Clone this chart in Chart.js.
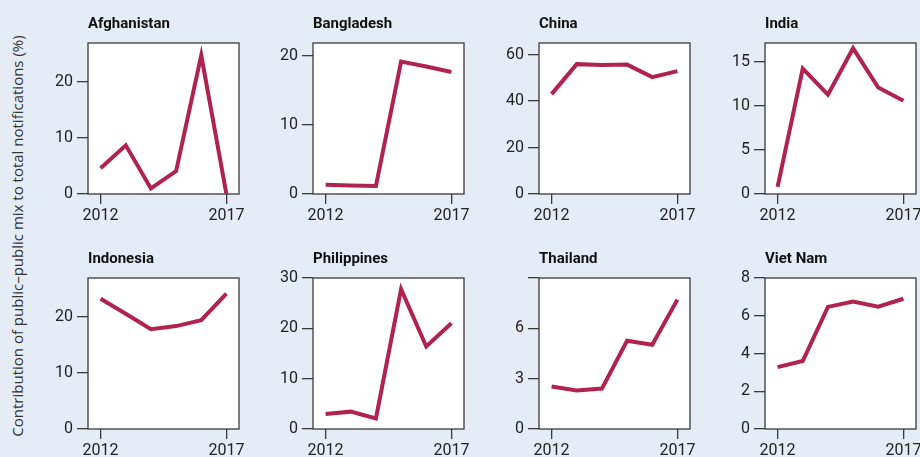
<!DOCTYPE html>
<html>
<head>
<meta charset="utf-8">
<script src="https://cdn.jsdelivr.net/npm/chart.js@4"></script>
<style>
  html, body { margin: 0; padding: 0; }
  body { width: 920px; height: 457px; background: #e6ecf6; position: relative; overflow: hidden; }
  canvas { position: absolute; }
  #ylab {
    position: absolute; left: 17px; top: 236px;
    transform: translate(-50%, -50%) rotate(-90deg);
    white-space: nowrap; font: 15px "Open Sans", sans-serif; color: #333;
  }
</style>
</head>
<body>
<div id="ylab">Contribution of public–public mix to total notifications (%)</div>

<script>
var years = [2012, 2013, 2014, 2015, 2016, 2017];
var xTicks = [2012, 2017];

var countries = ["Afghanistan", "Bangladesh", "China", "India",
                 "Indonesia", "Philippines", "Thailand", "Viet Nam"];

var afghanistan = [4.6, 8.7, 1.0, 4.1, 24.8, 0];
var bangladesh  = [1.35, 1.25, 1.15, 19.2, 18.5, 17.7];
var china       = [43.0, 55.9, 55.5, 55.7, 50.3, 52.9];
var india       = [0.8, 14.2, 11.25, 16.5, 12.05, 10.55];
var indonesia   = [23.3, 20.6, 17.85, 18.4, 19.45, 24.2];
var philippines = [3.0, 3.45, 2.1, 27.8, 16.4, 21.0];
var thailand    = [2.53, 2.29, 2.41, 5.26, 5.02, 7.71];
var vietnam     = [3.28, 3.6, 6.47, 6.75, 6.48, 6.9];

var yMax   = [27, 21.9, 65, 17.1, 27, 30, 9, 8];
var yTicks = [[0, 10, 20], [0, 10, 20], [0, 20, 40, 60], [0, 5, 10, 15],
              [0, 10, 20], [0, 10, 20, 30], [0, 3, 6, 9], [0, 2, 4, 6, 8]];
var hiddenLabels = [[], [], [], [], [], [], [9], []];

var series = [afghanistan, bangladesh, china, india, indonesia, philippines, thailand, vietnam];

// box positions of each small plot
var colLeft = [88, 313, 539, 765];
var rowTop = [43, 278];
var boxSize = 151;
var padL = 60, padT = 40, padR = 20, padB = 35;

var boxPlugin = {
  id: 'box',
  beforeDatasetsDraw: function(chart) {
    var a = chart.chartArea, c = chart.ctx;
    c.save();
    c.fillStyle = '#ffffff';
    c.fillRect(a.left, a.top, a.right - a.left, a.bottom - a.top);
    c.strokeStyle = '#3a3a3a';
    c.lineWidth = 1.3;
    c.strokeRect(a.left, a.top, a.right - a.left, a.bottom - a.top);
    c.restore();
  },
  afterDraw: function(chart) {
    var a = chart.chartArea, c = chart.ctx;
    c.save();
    c.fillStyle = '#111';
    c.font = 'bold 15px Roboto';
    c.textBaseline = 'alphabetic';
    c.fillText(chart.options.plugins.box.name, a.left, a.top - 15);
    c.restore();
  }
};

countries.forEach(function(name, i) {
  var col = i % 4, row = Math.floor(i / 4);
  var cv = document.createElement('canvas');
  var w = padL + boxSize + padR, h = padT + boxSize + padB;
  cv.width = w; cv.height = h;
  cv.style.width = w + 'px'; cv.style.height = h + 'px';
  cv.style.left = (colLeft[col] - padL) + 'px';
  cv.style.top = (rowTop[row] - padT) + 'px';
  document.body.appendChild(cv);

  new Chart(cv, {
    type: 'line',
    data: {
      datasets: [{
        data: years.map(function(y, k) { return { x: y, y: series[i][k] }; }),
        borderColor: '#b0234f',
        borderWidth: 4,
        pointRadius: 0,
        tension: 0
      }]
    },
    options: {
      responsive: false,
      animation: false,
      layout: { padding: { top: padT, right: padR, left: 0, bottom: 0 } },
      plugins: {
        legend: { display: false },
        tooltip: { enabled: false },
        box: { name: name }
      },
      scales: {
        x: {
          type: 'linear', min: 2011.5, max: 2017.5,
          afterBuildTicks: function(s) { s.ticks = xTicks.map(function(v) { return { value: v }; }); },
          afterFit: function(s) { s.height = padB; },
          border: { display: false },
          grid: { drawOnChartArea: false, tickLength: 10, color: '#3a3a3a', lineWidth: 1.3 },
          ticks: { padding: 2, color: '#222', font: { family: 'Roboto', size: 16 },
                   maxRotation: 0, callback: function(v) { return String(v); } }
        },
        y: {
          min: 0, max: yMax[i],
          afterBuildTicks: function(s) { s.ticks = yTicks[i].map(function(v) { return { value: v }; }); },
          afterFit: function(s) { s.width = padL; },
          border: { display: false },
          grid: { drawOnChartArea: false, tickLength: 11, color: '#3a3a3a', lineWidth: 1.3 },
          ticks: { padding: 4, color: '#222', font: { family: 'Roboto', size: 16 },
                   callback: function(v) { return hiddenLabels[i].indexOf(v) >= 0 ? '' : String(v); } }
        }
      }
    },
    plugins: [boxPlugin]
  });
});
</script>
</body>
</html>
